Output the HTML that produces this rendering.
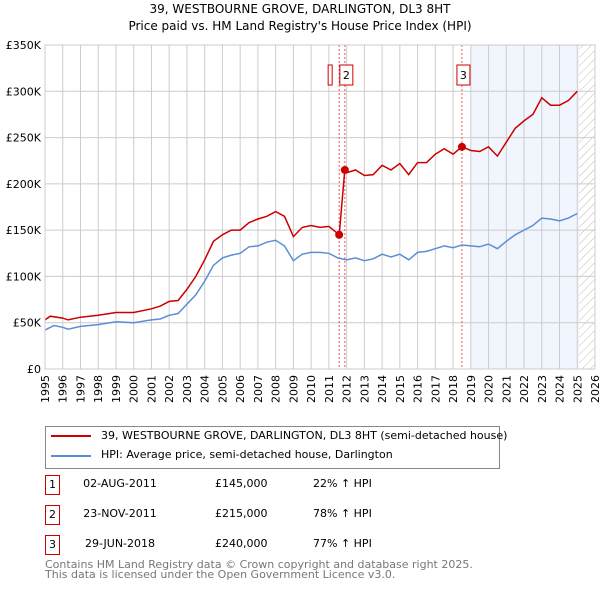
<!DOCTYPE html>
<html><head><meta charset="utf-8"><style>
body{margin:0;background:#fff;font-family:"DejaVu Sans","Liberation Sans",sans-serif;}
#wrap{position:relative;width:600px;height:590px;overflow:hidden}
.t{position:absolute;font-size:11px;color:#000;white-space:nowrap}
.box{position:absolute;border:1px solid #c00;width:13px;height:18px;font-size:11px;text-align:center;line-height:18px}
</style></head><body><div id="wrap">
<div class="t" style="left:0;width:600px;text-align:center;top:2px;font-size:12px">39, WESTBOURNE GROVE, DARLINGTON, DL3 8HT</div>
<div class="t" style="left:0;width:600px;text-align:center;top:19px;font-size:12px">Price paid vs. HM Land Registry's House Price Index (HPI)</div>
<svg id="chart" width="600" height="410" style="position:absolute;left:0;top:0" font-family="DejaVu Sans, Liberation Sans, sans-serif" font-size="11">
<defs><pattern id="hatch" width="6" height="6" patternUnits="userSpaceOnUse" patternTransform="rotate(45)"><line x1="0" y1="0" x2="0" y2="6" stroke="#bbb" stroke-width="1"/></pattern></defs>
</svg>
<div style="position:absolute;left:45px;top:426px;width:453px;height:41px;border:1px solid #888">
<div style="position:absolute;left:5px;top:8px;width:40px;height:2px;background:#c00"></div>
<div class="t" style="left:55px;top:2px">39, WESTBOURNE GROVE, DARLINGTON, DL3 8HT (semi-detached house)</div>
<div style="position:absolute;left:5px;top:28px;width:40px;height:2px;background:#5b8dd6"></div>
<div class="t" style="left:55px;top:21px">HPI: Average price, semi-detached house, Darlington</div>
</div>
<div id="rows"></div>
<div class="t" style="left:45px;top:560px;color:#777;line-height:10px">Contains HM Land Registry data © Crown copyright and database right 2025.<br>This data is licensed under the Open Government Licence v3.0.</div>
</div>
<script>
const hpiYears=[1995,1995.5,1996,1996.3,1997,1998,1999,2000,2001,2001.5,2002,2002.5,2003,2003.5,2004,2004.5,2005,2005.5,2006,2006.5,2007,2007.5,2008,2008.5,2009,2009.5,2010,2010.5,2011,2011.5,2012,2012.5,2013,2013.5,2014,2014.5,2015,2015.5,2016,2016.5,2017,2017.5,2018,2018.5,2019,2019.5,2020,2020.5,2021,2021.5,2022,2022.5,2023,2023.5,2024,2024.5,2025];
const hpiValues=[42,47,45,43,46,48,51,50,53,54,58,60,70,80,95,112,120,123,125,132,133,137,139,133,117,124,126,126,125,120,118,120,117,119,124,121,124,118,126,127,130,133,131,134,133,132,135,130,138,145,150,155,163,162,160,163,168];
const priceYears=[1995,1995.3,1996,1996.3,1997,1998,1999,2000,2001,2001.5,2002,2002.5,2003,2003.5,2004,2004.5,2005,2005.5,2006,2006.5,2007,2007.5,2008,2008.5,2009,2009.5,2010,2010.5,2011,2011.58,2011.9,2012,2012.5,2013,2013.5,2014,2014.5,2015,2015.5,2016,2016.5,2017,2017.5,2018,2018.5,2019,2019.5,2020,2020.5,2021,2021.5,2022,2022.5,2023,2023.5,2024,2024.5,2025];
const priceValues=[53,57,55,53,56,58,61,61,65,68,73,74,86,100,118,138,145,150,150,158,162,165,170,165,143,153,155,153,154,145,215,212,215,209,210,220,215,222,210,223,223,232,238,232,240,236,235,240,230,245,260,268,275,293,285,285,290,300];
const saleYears=[2011.58,2011.9,2018.5];
const saleValues=[145,215,240];
const saleLabels=["1","2","3"];
const saleDates=["02-AUG-2011","23-NOV-2011","29-JUN-2018"];
const salePrices=["£145,000","£215,000","£240,000"];
const saleHpi=["22% ↑ HPI","78% ↑ HPI","77% ↑ HPI"];
const yTicks=[0,50,100,150,200,250,300,350];
const yTickLabels=["£0","£50K","£100K","£150K","£200K","£250K","£300K","£350K"];
const xTicks=[];for(let y=1995;y<=2026;y++)xTicks.push(y);

const L=45,R=595,T=45,B=369;
const x=v=>L+(v-1995)/(2026-1995)*(R-L);
const y=v=>B-v/350*(B-T);
const svg=document.getElementById('chart');const NS='http://www.w3.org/2000/svg';
function mk(tag,a,p){const e=document.createElementNS(NS,tag);for(const k in a)e.setAttribute(k,a[k]);(p||svg).appendChild(e);return e;}
let e;
e=mk('rect',{x:x(2019),y:T,width:x(2025.1)-x(2019),height:B-T,fill:'#eef3fc',opacity:0.8});


e=mk('rect',{x:x(2025.1),y:T,width:R-x(2025.1),height:B-T,fill:'url(#hatch)'});


xTicks.forEach(t=>{const g=mk('line',{x1:x(t),x2:x(t),y1:T,y2:B,stroke:'#ccc'});


const tx=mk('text',{x:0,y:0,'text-anchor':'end',transform:`translate(${x(t)+4},375) rotate(-90)`});tx.textContent=t;

});
yTicks.forEach((t,i)=>{const g=mk('line',{x1:L,x2:R,y1:y(t),y2:y(t),stroke:'#ccc'});


const tx=mk('text',{x:L-4,y:y(t)+4,'text-anchor':'end'});tx.textContent=yTickLabels[i];

});
saleYears.forEach((s,i)=>{e=mk('line',{x1:x(s),x2:x(s),y1:T,y2:B,stroke:'#e55','stroke-dasharray':'2,2'});

});
const pts=(xs,vs)=>xs.map((v,i)=>x(v).toFixed(1)+','+y(vs[i]).toFixed(1)).join(' ');
e=mk('polyline',{points:pts(hpiYears,hpiValues),fill:'none',stroke:'#5b8dd6','stroke-width':1.5});


e=mk('polyline',{points:pts(priceYears,priceValues),fill:'none',stroke:'#c00','stroke-width':1.5});


saleYears.forEach((s,i)=>{e=mk('circle',{cx:x(s),cy:y(saleValues[i]),r:4,fill:'#c00'});


const r=mk('rect',{x:i===0?x(s)-11:x(s)-5,y:65,width:i===0?4:13,height:20,fill:'#fff',stroke:'#c00'});


if(i>0){const tx=mk('text',{x:x(s)+1.5,y:79,'text-anchor':'middle','font-size':11});tx.textContent=saleLabels[i];

}});
mk('rect',{x:L,y:T,width:R-L,height:B-T,fill:'none',stroke:'#ccc'});
const rows=document.getElementById('rows');
saleLabels.forEach((l,i)=>{const top=475+i*30;const d=document.createElement('div');
d.innerHTML=`<div class="box" style="left:45px;top:${top}px">${l}</div><div class="t" style="left:80px;top:${top+2}px;width:80px;text-align:center">${saleDates[i]}</div><div class="t" style="left:215px;top:${top+2}px">${salePrices[i]}</div><div class="t" style="left:313px;top:${top+2}px">${saleHpi[i]}</div>`;


rows.appendChild(d);});
</script></body></html>
